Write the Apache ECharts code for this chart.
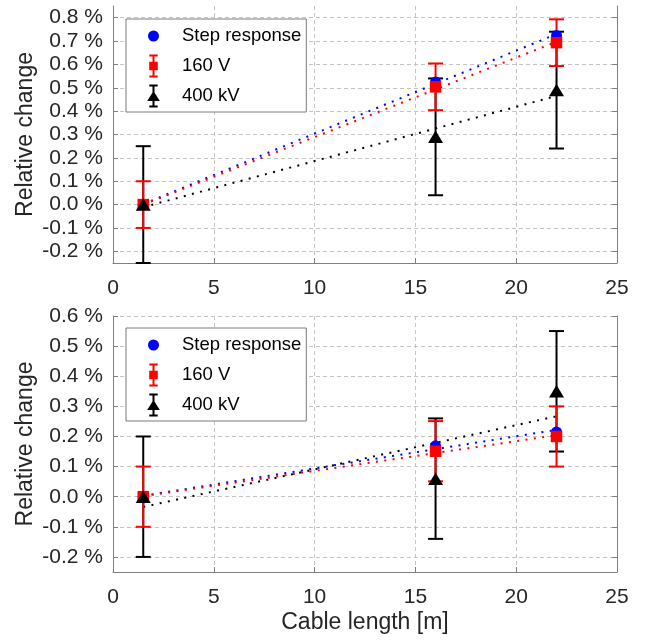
<!DOCTYPE html>
<html>
<head>
<meta charset="utf-8">
<script src="https://cdn.jsdelivr.net/npm/echarts@6/dist/echarts.min.js"></script>
<style>
html,body{margin:0;padding:0;background:#fff;}
#chart{width:650px;height:640px;}
</style>
</head>
<body>
<div id="chart"></div>
<script>
// ---- data ----
const cableLength = [1.5, 16, 22];
const fitX = [1.5, 22];
const seriesNames = ['Step response', '160 V', '400 kV'];

const stepTop = [0.0, 0.525, 0.724];
const v160Top = [0.0, 0.504, 0.693];
const v160TopErr = [0.1, 0.1, 0.1];
const kv400Top = [0.0, 0.29, 0.49];
const kv400TopErr = [0.25, 0.25, 0.25];
const stepTopFit = [0.002, 0.730];
const v160TopFit = [0.0, 0.697];
const kv400TopFit = [-0.011, 0.465];

const stepBot = [0.0, 0.169, 0.215];
const v160Bot = [0.0, 0.151, 0.2];
const v160BotErr = [0.1, 0.1, 0.1];
const kv400Bot = [0.0, 0.06, 0.35];
const kv400BotErr = [0.2, 0.2, 0.2];
const stepBotFit = [0.003, 0.222];
const v160BotFit = [0.002, 0.204];
const kv400BotFit = [-0.034, 0.267];

const yTicksTop = [-0.2, -0.1, 0.0, 0.1, 0.2, 0.3, 0.4, 0.5, 0.6, 0.7, 0.8];
const yTicksBot = [-0.2, -0.1, 0.0, 0.1, 0.2, 0.3, 0.4, 0.5, 0.6];

// ---- styling ----
const FONT = '"Liberation Sans", Arial, Helvetica, sans-serif';
const AXIS_COLOR = '#808080';
const LABEL_COLOR = '#262626';
const GRID_COLOR = '#c4c4c4';
const BLUE = '#0000ff', RED = '#ff0000', BLACK = '#000000';

const pairs = (xs, ys) => xs.map((x, i) => [x, ys[i]]);
const errData = (xs, ys, es) => xs.map((x, i) => [x, ys[i] - es[i], ys[i] + es[i]]);

function errRender(color) {
  return function (params, api) {
    const x = api.value(0);
    const p1 = api.coord([x, api.value(2)]);
    const p2 = api.coord([x, api.value(1)]);
    const hw = 7.5;
    const st = { stroke: color, lineWidth: 2 };
    return {
      type: 'group',
      children: [
        { type: 'line', shape: { x1: p1[0], y1: p1[1], x2: p2[0], y2: p2[1] }, style: st },
        { type: 'line', shape: { x1: p1[0] - hw, y1: p1[1], x2: p1[0] + hw, y2: p1[1] }, style: st },
        { type: 'line', shape: { x1: p2[0] - hw, y1: p2[1], x2: p2[0] + hw, y2: p2[1] }, style: st }
      ]
    };
  };
}

function xAxisFor(gi) {
  return {
    type: 'value', gridIndex: gi, min: 0, max: 25, interval: 5,
    name: gi === 1 ? 'Cable length [m]' : '',
    nameLocation: 'middle', nameGap: 39, nameMoveOverlap: false,
    nameTextStyle: { fontSize: 23, color: LABEL_COLOR, fontFamily: FONT },
    axisLine: { show: true, onZero: false, lineStyle: { color: AXIS_COLOR, width: 1 } },
    axisTick: { show: true, inside: true, length: 5, lineStyle: { color: AXIS_COLOR } },
    axisLabel: { fontSize: 21, color: LABEL_COLOR, fontFamily: FONT, margin: 15 },
    splitLine: { show: true, lineStyle: { color: GRID_COLOR, type: [4, 3], width: 1 } }
  };
}

function yAxisFor(gi, min, max, ticks) {
  return {
    type: 'value', gridIndex: gi, min: min, max: max, position: 'left',
    name: 'Relative change', nameLocation: 'middle', nameGap: 76, nameRotate: 90,
    nameMoveOverlap: false,
    nameTextStyle: { fontSize: 23, color: LABEL_COLOR, fontFamily: FONT },
    axisLine: { show: true, onZero: false, lineStyle: { color: AXIS_COLOR, width: 1 } },
    axisTick: { show: true, inside: true, length: 5, customValues: ticks, lineStyle: { color: AXIS_COLOR } },
    axisLabel: {
      fontSize: 21, color: LABEL_COLOR, fontFamily: FONT, margin: 10, customValues: ticks,
      formatter: v => (Math.abs(v) < 1e-9 ? 0 : v).toFixed(1) + ' %'
    },
    splitLine: { show: true, lineStyle: { color: GRID_COLOR, type: [4, 3], width: 1 } }
  };
}

function yAxisRight(gi, min, max, ticks) {
  return {
    type: 'value', gridIndex: gi, min: min, max: max, position: 'right',
    axisLine: { show: true, onZero: false, lineStyle: { color: AXIS_COLOR, width: 1 } },
    axisTick: { show: true, inside: true, length: 5, customValues: ticks, lineStyle: { color: AXIS_COLOR } },
    axisLabel: { show: false },
    splitLine: { show: false }
  };
}

const iconStep = 'path://M0,0M24,24M17.5,12A5.5,5.5,0,1,1,6.5,12A5.5,5.5,0,1,1,17.5,12Z';
const iconRed = 'path://M0,0M24,24' +
  'M7.8,0.5H16.2V2.5H7.8Z' +
  'M7.8,21.5H16.2V23.5H7.8Z' +
  'M11,0.5H13V23.5H11Z' +
  'M7.7,7.7H16.3V16.3H7.7Z';
const iconBlack = 'path://M0,0M24,24' +
  'M7.8,0.5H16.2V2.5H7.8Z' +
  'M7.8,21.5H16.2V23.5H7.8Z' +
  'M11,0.5H13V23.5H11Z' +
  'M12,7L18.35,17H5.65Z';

function legendFor(top) {
  return {
    orient: 'vertical', left: 126, top: top,
    itemWidth: 47, itemHeight: 24, itemGap: 6,
    padding: [5, 5, 4, 15.5],
    backgroundColor: '#ffffff', borderColor: '#7a7a7a', borderWidth: 1, borderRadius: 0,
    textStyle: { fontSize: 18.5, color: '#000', fontFamily: FONT },
    itemStyle: { opacity: 1 },
    selectedMode: false,
    data: [
      { name: seriesNames[0], icon: iconStep },
      { name: seriesNames[1], icon: iconRed },
      { name: seriesNames[2], icon: iconBlack }
    ]
  };
}

function seriesFor(gi, step, v160, v160Err, kv, kvErr, stepFit, v160Fit, kvFit) {
  const xi = gi, yi = gi * 2;
  const dotted = (name, color, ys) => ({
    type: 'line', name: name, xAxisIndex: xi, yAxisIndex: yi, z: 1,
    data: pairs(fitX, ys), symbol: 'none', silent: true,
    lineStyle: { color: color, width: 2, type: [2, 6.4] }
  });
  return [
    dotted('_fitStep' + gi, BLUE, stepFit),
    dotted('_fit160' + gi, RED, v160Fit),
    dotted('_fit400' + gi, BLACK, kvFit),
    { type: 'custom', name: '_err400' + gi, xAxisIndex: xi, yAxisIndex: yi, z: 2,
      data: errData(cableLength, kv, kvErr), encode: { x: 0, y: [1, 2] }, renderItem: errRender(BLACK) },
    { type: 'custom', name: '_err160' + gi, xAxisIndex: xi, yAxisIndex: yi, z: 2,
      data: errData(cableLength, v160, v160Err), encode: { x: 0, y: [1, 2] }, renderItem: errRender(RED) },
    { type: 'scatter', name: seriesNames[0], xAxisIndex: xi, yAxisIndex: yi, z: 3,
      data: pairs(cableLength, step), symbol: 'circle', symbolSize: 11, itemStyle: { color: BLUE, opacity: 1 } },
    { type: 'scatter', name: seriesNames[1], xAxisIndex: xi, yAxisIndex: yi, z: 4,
      data: pairs(cableLength, v160), symbol: 'rect', symbolSize: 11.5, itemStyle: { color: RED, opacity: 1 } },
    { type: 'scatter', name: seriesNames[2], xAxisIndex: xi, yAxisIndex: yi, z: 5,
      data: pairs(cableLength, kv), symbol: 'triangle', symbolSize: [15, 12.5], itemStyle: { color: BLACK, opacity: 1 } }
  ];
}

const chart = echarts.init(document.getElementById('chart'), null, { renderer: 'canvas' });
chart.setOption({
  animation: false,
  backgroundColor: '#ffffff',
  grid: [
    { left: 113, width: 504, top: 6, height: 257 },
    { left: 113, width: 504, top: 316, height: 256 }
  ],
  legend: [legendFor(19), legendFor(328)],
  xAxis: [xAxisFor(0), xAxisFor(1)],
  yAxis: [
    yAxisFor(0, -0.25, 0.85, yTicksTop), yAxisRight(0, -0.25, 0.85, yTicksTop),
    yAxisFor(1, -0.25, 0.6, yTicksBot), yAxisRight(1, -0.25, 0.6, yTicksBot)
  ],
  series: [].concat(
    seriesFor(0, stepTop, v160Top, v160TopErr, kv400Top, kv400TopErr, stepTopFit, v160TopFit, kv400TopFit),
    seriesFor(1, stepBot, v160Bot, v160BotErr, kv400Bot, kv400BotErr, stepBotFit, v160BotFit, kv400BotFit)
  )
});
</script>
</body>
</html>
